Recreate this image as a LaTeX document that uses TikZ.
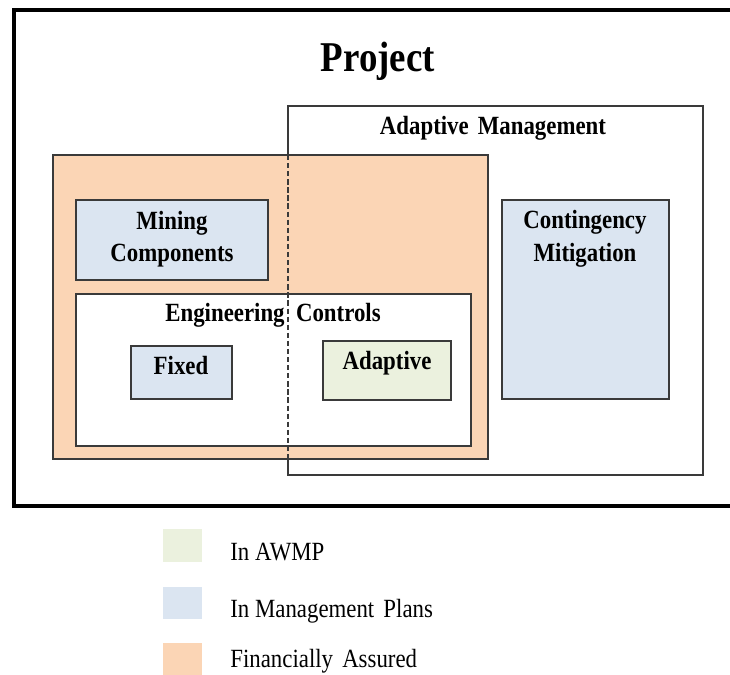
\documentclass[tikz,border=0pt]{standalone}
\usepackage{fontspec}
\setmainfont{Liberation Serif}
\definecolor{assured}{HTML}{FBD5B5}
\definecolor{plans}{HTML}{DBE5F1}
\definecolor{awmp}{HTML}{EBF1DE}
\definecolor{edge}{HTML}{3A3A3A}
\newcommand\tallbox[1]{\scalebox{1}[1.15]{#1}}
\begin{document}
\begin{tikzpicture}[x=0.02cm,y=-0.02cm,
  box/.style={draw=edge,line width=0.8pt},
  head/.style={font=\bfseries\fontsize{13}{18.5}\selectfont,align=center},
  key/.style={font=\fontsize{13}{15}\selectfont,anchor=base west,inner sep=0pt},
  swatch/.style={inner sep=0pt,minimum width=0.78cm,minimum height=0.65cm}]
\clip (0,0) rectangle (730,675);
\fill[white] (0,0) rectangle (730,675);
% project frame
\draw[line width=2.8pt] (14,10) rectangle (760,506);
\node[font=\bfseries\fontsize{21}{25}\selectfont,anchor=base] (project) at (378,72) {\tallbox{Project}};
% adaptive management
\draw[box] (288,106) rectangle (703,475);
\node[head,anchor=base] (adapman) at (493,135) {\tallbox{Adaptive\hspace{0.4em}Management}};
% financially assured part
\draw[box,fill=assured] (53,155) rectangle (488,459);
\draw[box,fill=plans] (76,200) rectangle (268,280);
\node[head] (mining) at (172,239) {\tallbox{Mining}\\\tallbox{Components}};
\draw[box,fill=white] (76,294) rectangle (471,446);
\node[head,anchor=base] (engctl) at (273,322) {\tallbox{Engineering\hspace{0.5em}Controls}};
\draw[box,fill=plans] (131,346) rectangle (232,399);
\node[head,anchor=base] (fixed) at (181,375) {\tallbox{Fixed}};
\draw[box,fill=awmp] (323,341) rectangle (451,400);
\node[head,anchor=base] (adaptive) at (387,370) {\tallbox{Adaptive}};
\draw[box,dashed,dash pattern=on 3pt off 1.6pt] (288,155) -- (288,459);
% contingency
\draw[box,fill=plans] (502,200) rectangle (669,399);
\node[head] (conting) at (585,239) {\tallbox{Contingency}\\\tallbox{Mitigation}};
% legend
\node[swatch,fill=awmp] (swA) at (182.5,545.5) {};
\node[swatch,fill=plans] (swB) at (182.5,603) {};
\node[swatch,fill=assured] (swC) at (182.5,659) {};
\node[key] (keyA) at (230,560) {\tallbox{In AWMP}};
\node[key] (keyB) at (230,617) {\tallbox{In Management\hspace{0.4em}Plans}};
\node[key] (keyC) at (230,667) {\tallbox{Financially\hspace{0.4em}Assured}};
\end{tikzpicture}
\end{document}
